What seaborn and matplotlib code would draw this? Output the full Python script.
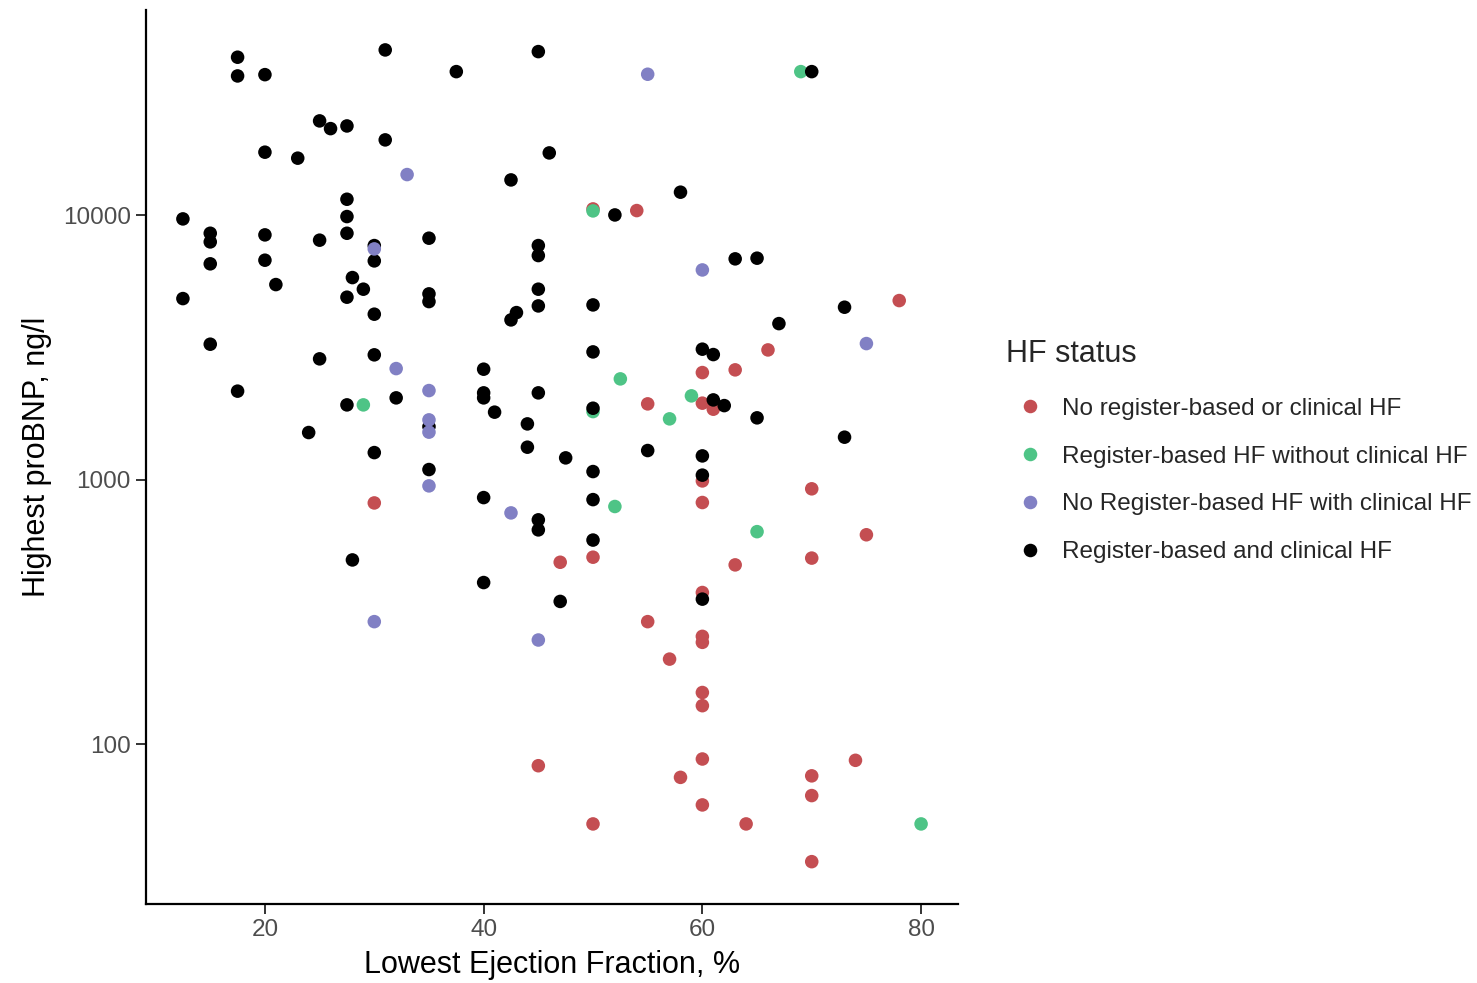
import numpy as np
import pandas as pd
import matplotlib
matplotlib.use("Agg")
import matplotlib.pyplot as plt
import seaborn as sns

# values
# No register-based or clinical HF
ef_none = [50, 54, 55, 55, 57, 58, 45, 47, 50, 50, 30, 60, 60, 60, 60, 60, 60,
           60, 60, 60, 60, 60, 61, 63, 63, 64, 66, 70, 70, 70, 70, 70, 74, 75, 78]
bnp_none = [10580, 10430, 1938, 291, 210, 75, 83, 488, 510, 50, 818, 2545, 1950,
            991, 821, 375, 256, 243, 157, 140, 88, 59, 1850, 2606, 477, 50, 3100,
            925, 506, 76, 64, 36, 87, 620, 4764]

# Register-based HF without clinical HF
ef_reg = [50, 69, 29, 52.5, 59, 50, 57, 52, 65, 80]
bnp_reg = [10400, 34970, 1921, 2409, 2078, 1812, 1701, 793, 637, 50]

# No Register-based HF with clinical HF
ef_clin = [33, 55, 60, 75, 30, 32, 35, 35, 35, 35, 42.5, 30, 45]
bnp_clin = [14270, 34180, 6220, 3276, 7470, 2635, 2176, 1686, 1515, 949, 750, 291, 248]

# Register-based and clinical HF
ef_both = [12.5, 12.5, 15, 15, 15, 15, 17.5, 17.5, 17.5, 20, 20, 20, 20, 21, 23, 24,
           25, 25, 25, 26, 27.5, 27.5, 27.5, 27.5, 27.5, 27.5, 28, 28, 29,
           30, 30, 30, 30, 30, 31, 31, 32, 35, 35, 35, 35, 35, 37.5,
           40, 40, 40, 40, 40, 41, 42.5, 42.5, 43, 44, 44,
           45, 45, 45, 45, 45, 45, 45, 45, 46, 47, 47.5,
           50, 50, 50, 50, 50, 50, 52, 55, 58, 60, 60, 60, 60, 61, 61, 62,
           63, 65, 65, 67, 70, 73, 73]
bnp_both = [9700, 4847, 8560, 7940, 6560, 3258, 39640, 33680, 2165, 34060, 17340,
            8440, 6770, 5476, 16460, 1510, 22770, 8060, 2868, 21290, 21790, 11510,
            9900, 8560, 4906, 1921, 5820, 498, 5260, 7690, 6730, 4231, 2970, 1268,
            42240, 19300, 2042, 8200, 5050, 4722, 1590, 1094, 34970,
            2621, 2133, 2042, 857, 409, 1803, 13620, 4026, 4290, 1628, 1329,
            41630, 7690, 7050, 5260, 4547, 2133, 706, 647, 17230, 347, 1211,
            4587, 3047, 1866, 1075, 842, 592, 10040, 1291, 12240, 3120, 1232, 1042,
            354, 2977, 2006, 1909, 6850, 6890, 1716, 3898, 34970, 4496, 1450]

groups = ["No register-based or clinical HF",
          "Register-based HF without clinical HF",
          "No Register-based HF with clinical HF",
          "Register-based and clinical HF"]
colors = ["#C44E52", "#4EC486", "#8180C4", "#000000"]

# row order sets drawing order (purple ends up on top of black)
df = pd.concat([
    pd.DataFrame({"ef": ef_none, "bnp": bnp_none, "status": groups[0]}),
    pd.DataFrame({"ef": ef_reg, "bnp": bnp_reg, "status": groups[1]}),
    pd.DataFrame({"ef": ef_both, "bnp": bnp_both, "status": groups[3]}),
    pd.DataFrame({"ef": ef_clin, "bnp": bnp_clin, "status": groups[2]}),
], ignore_index=True)

sns.set_style("white")
plt.rcParams["font.family"] = ["Liberation Sans", "DejaVu Sans"]

fig = plt.figure(figsize=(14.77, 9.83), dpi=100)
ax = fig.add_axes([146 / 1477, 79 / 983, (958 - 146) / 1477, (904 - 10) / 983])

sns.scatterplot(data=df, x="ef", y="bnp", hue="status", hue_order=groups,
                palette=dict(zip(groups, colors)), s=95, linewidth=0, alpha=1,
                ax=ax)

ax.set_yscale("log")
ax.set_xlim(9.125, 83.375)
ax.set_ylim(24.9, 59800)
ax.set_xticks([20, 40, 60, 80])
ax.set_yticks([100, 1000, 10000])
ax.set_yticklabels(["100", "1000", "10000"])
ax.yaxis.set_minor_locator(matplotlib.ticker.NullLocator())

for side in ["top", "right"]:
    ax.spines[side].set_visible(False)
for side in ["left", "bottom"]:
    ax.spines[side].set_color("black")
    ax.spines[side].set_linewidth(1.6)

ax.tick_params(axis="both", which="major", length=7, width=1.4, color="#333333",
               labelsize=17.5, labelcolor="#4D4D4D", pad=4, left=True, bottom=True)

ax.set_xlabel("Lowest Ejection Fraction, %", fontsize=22, color="black", labelpad=6)
ax.set_ylabel("Highest proBNP, ng/l", fontsize=22, color="black", labelpad=8)

handles, labels = ax.get_legend_handles_labels()
ax.legend_.remove()
leg = fig.legend(handles, labels, title="HF status", loc="center left",
                 bbox_to_anchor=(994 / 1477, 1 - 451 / 983),
                 bbox_transform=fig.transFigure, frameon=False,
                 fontsize=17.5, title_fontsize=22, borderpad=0,
                 handlelength=2.0, handletextpad=0.3, labelspacing=1.06,
                 markerscale=1.0)
leg._legend_box.align = "left"
leg._legend_box.sep = 21

fig.savefig("out.png", dpi=100, facecolor="white")
